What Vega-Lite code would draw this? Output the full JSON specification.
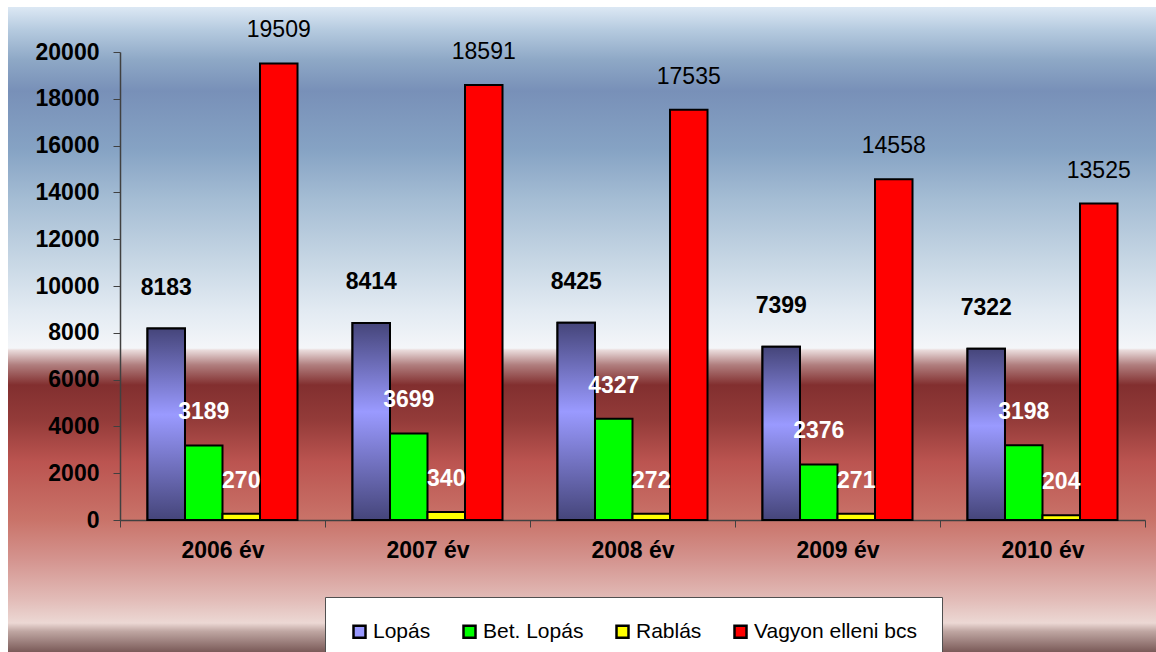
{
  "$schema": "https://vega.github.io/schema/vega-lite/v6.json",
  "autosize": "none",
  "width": 1148,
  "height": 645,
  "padding": {"left": 8, "top": 7, "right": 0, "bottom": 0},
  "background": "white",
  "config": {
    "font": "Liberation Sans",
    "view": {
      "stroke": null,
      "fill": {
        "gradient": "linear",
        "x1": 0, "y1": 0, "x2": 0, "y2": 1,
        "stops": [
          {"offset": 0, "color": "#dce8f4"},
          {"offset": 0.036, "color": "#b5cadf"},
          {"offset": 0.082, "color": "#8ea8c6"},
          {"offset": 0.13, "color": "#7890b8"},
          {"offset": 0.222, "color": "#86a3c4"},
          {"offset": 0.299, "color": "#a5bdd4"},
          {"offset": 0.392, "color": "#c6d6e4"},
          {"offset": 0.47, "color": "#e2eaf2"},
          {"offset": 0.529, "color": "#f4f6f9"},
          {"offset": 0.532, "color": "#eadcdc"},
          {"offset": 0.555, "color": "#b07e7e"},
          {"offset": 0.586, "color": "#822f2f"},
          {"offset": 0.64, "color": "#933b39"},
          {"offset": 0.705, "color": "#bb5450"},
          {"offset": 0.795, "color": "#c97369"},
          {"offset": 0.857, "color": "#d4948f"},
          {"offset": 0.919, "color": "#e2bcb8"},
          {"offset": 0.955, "color": "#ecd8d4"},
          {"offset": 0.968, "color": "#bfa6a2"},
          {"offset": 1, "color": "#7a5a58"}
        ]
      }
    },
    "axis": {
      "domainColor": "#404040",
      "tickColor": "#404040",
      "tickSize": 7,
      "grid": false,
      "title": null,
      "labelFont": "Liberation Sans",
      "labelFontWeight": "bold",
      "labelFontSize": 23,
      "labelColor": "black"
    }
  },
  "data": {
    "values": [
      {"year": "2006 év", "series": "Lopás", "value": 8183},
      {"year": "2006 év", "series": "Bet. Lopás", "value": 3189},
      {"year": "2006 év", "series": "Rablás", "value": 270},
      {"year": "2006 év", "series": "Vagyon elleni bcs", "value": 19509},
      {"year": "2007 év", "series": "Lopás", "value": 8414},
      {"year": "2007 év", "series": "Bet. Lopás", "value": 3699},
      {"year": "2007 év", "series": "Rablás", "value": 340},
      {"year": "2007 év", "series": "Vagyon elleni bcs", "value": 18591},
      {"year": "2008 év", "series": "Lopás", "value": 8425},
      {"year": "2008 év", "series": "Bet. Lopás", "value": 4327},
      {"year": "2008 év", "series": "Rablás", "value": 272},
      {"year": "2008 év", "series": "Vagyon elleni bcs", "value": 17535},
      {"year": "2009 év", "series": "Lopás", "value": 7399},
      {"year": "2009 év", "series": "Bet. Lopás", "value": 2376},
      {"year": "2009 év", "series": "Rablás", "value": 271},
      {"year": "2009 év", "series": "Vagyon elleni bcs", "value": 14558},
      {"year": "2010 év", "series": "Lopás", "value": 7322},
      {"year": "2010 év", "series": "Bet. Lopás", "value": 3198},
      {"year": "2010 év", "series": "Rablás", "value": 204},
      {"year": "2010 év", "series": "Vagyon elleni bcs", "value": 13525}
    ]
  },
  "encoding": {
    "x": {
      "field": "year",
      "type": "nominal",
      "sort": null,
      "scale": {"range": [112, 1137], "paddingInner": 0, "paddingOuter": 0},
      "axis": {
        "orient": "bottom",
        "offset": -132,
        "labelAngle": 0,
        "tickBand": "extent",
        "labelPadding": 12,
        "domainWidth": 1.5
      }
    },
    "xOffset": {
      "field": "series",
      "type": "nominal",
      "sort": ["Lopás", "Bet. Lopás", "Rablás", "Vagyon elleni bcs"],
      "scale": {"paddingOuter": 0.733, "paddingInner": 0}
    },
    "y": {
      "field": "value",
      "type": "quantitative",
      "scale": {"domain": [0, 20000], "range": [513, 45], "nice": false, "zero": true},
      "axis": {
        "orient": "left",
        "offset": -112,
        "tickCount": 10,
        "format": "d",
        "labelPadding": 14,
        "domainWidth": 1.5
      }
    }
  },
  "layer": [
    {
      "mark": {"type": "bar", "stroke": "black", "strokeWidth": 2},
      "encoding": {
        "color": {
          "field": "series",
          "type": "nominal",
          "sort": ["Lopás", "Bet. Lopás", "Rablás", "Vagyon elleni bcs"],
          "scale": {
            "domain": ["Lopás", "Bet. Lopás", "Rablás", "Vagyon elleni bcs"],
            "range": ["#9999ff", "#00ff00", "#ffff00", "#ff0000"]
          },
          "legend": {
            "title": null,
            "orient": "none",
            "legendX": 317,
            "legendY": 590,
            "direction": "horizontal",
            "columnPadding": 27,
            "padding": 24,
            "fillColor": "white",
            "strokeColor": "#505050",
            "symbolType": "square",
            "symbolSize": 144,
            "symbolStrokeColor": "black",
            "symbolStrokeWidth": 2.5,
            "labelFont": "Liberation Sans",
            "labelFontSize": 21,
            "labelColor": "black",
            "labelOffset": 3,
            "labelLimit": 400
          }
        }
      }
    },
    {
      "transform": [{"filter": "datum.series === 'Lopás'"}],
      "mark": {
        "type": "bar",
        "stroke": "black",
        "strokeWidth": 2,
        "color": {
          "gradient": "linear",
          "x1": 0, "y1": 0, "x2": 0, "y2": 1,
          "stops": [
            {"offset": 0, "color": "#45457a"},
            {"offset": 0.45, "color": "#9a9aff"},
            {"offset": 1, "color": "#45457a"}
          ]
        }
      }
    },
    {
      "transform": [{"filter": "datum.series === 'Lopás'"}],
      "mark": {"type": "text", "dy": -41, "baseline": "middle", "fontSize": 23, "fontWeight": "bold", "color": "black"},
      "encoding": {"text": {"field": "value", "type": "quantitative", "format": "d"}}
    },
    {
      "transform": [{"filter": "datum.series === 'Bet. Lopás' || datum.series === 'Rablás'"}],
      "mark": {"type": "text", "dy": -33, "baseline": "middle", "fontSize": 23, "fontWeight": "bold", "color": "white"},
      "encoding": {"text": {"field": "value", "type": "quantitative", "format": "d"}}
    },
    {
      "transform": [{"filter": "datum.series === 'Vagyon elleni bcs'"}],
      "mark": {"type": "text", "dy": -33, "baseline": "middle", "fontSize": 23, "fontWeight": "normal", "color": "black"},
      "encoding": {"text": {"field": "value", "type": "quantitative", "format": "d"}}
    }
  ]
}
